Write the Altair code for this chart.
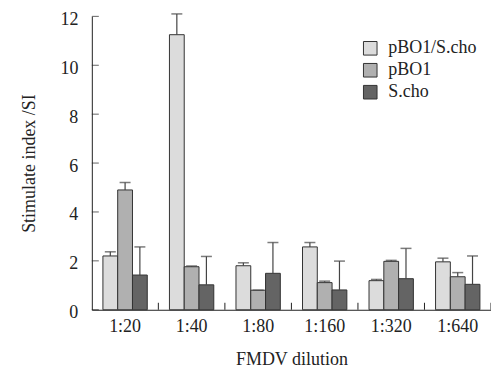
import altair as alt
import pandas as pd

dilutions = ["1:20", "1:40", "1:80", "1:160", "1:320", "1:640"]
groups = ["pBO1/S.cho", "pBO1", "S.cho"]
vals_combo = [2.2, 11.25, 1.8, 2.57, 1.19, 1.96]
err_combo = [2.37, 12.1, 1.92, 2.75, 1.24, 2.11]
vals_pbo1 = [4.9, 1.76, 0.8, 1.11, 1.98, 1.35]
err_pbo1 = [5.2, 1.79, 0.8, 1.17, 2.02, 1.52]
vals_scho = [1.42, 1.02, 1.49, 0.81, 1.27, 1.04]
err_scho = [2.57, 2.18, 2.75, 1.99, 2.51, 2.2]
y_ticks = [0, 2, 4, 6, 8, 10, 12]
colors = ["#dcdcdc", "#b0b0b0", "#646464"]

rows = []
for g, vs, es in [(groups[0], vals_combo, err_combo), (groups[1], vals_pbo1, err_pbo1), (groups[2], vals_scho, err_scho)]:
    for d, v, e in zip(dilutions, vs, es):
        rows.append({"dilution": d, "group": g, "value": v, "err": e})
df = pd.DataFrame(rows)
df_d = pd.DataFrame({"dilution": dilutions})
df_y = pd.DataFrame({"t": y_ticks})

W, H = 400, 294
FONT = "Liberation Serif"
FS = 18

xenc = alt.X("dilution:N", sort=dilutions,
             scale=alt.Scale(paddingInner=0, paddingOuter=0),
             axis=alt.Axis(title="FMDV dilution", labelAngle=0, ticks=False,
                           labelPadding=8, titlePadding=15, domainColor="#222"))
xoff = alt.XOffset("group:N", sort=groups, scale=alt.Scale(paddingInner=0, paddingOuter=0.75))
yenc = alt.Y("value:Q", scale=alt.Scale(domain=[0, 12], nice=False),
             axis=alt.Axis(title="Stimulate index /SI", values=y_ticks, ticks=False,
                           labelPadding=14, labelOffset=3, titlePadding=21, grid=False,
                           domainColor="#222"))

bars = alt.Chart(df).mark_bar(stroke="#333", strokeWidth=1).encode(
    x=xenc, xOffset=xoff, y=yenc,
    color=alt.Color("group:N", sort=groups,
                    scale=alt.Scale(domain=groups, range=colors),
                    legend=alt.Legend(title=None, orient="none", legendX=270, legendY=23,
                                      symbolType="square", symbolSize=185,
                                      symbolStrokeColor="#333", symbolStrokeWidth=1,
                                      labelFontSize=FS, labelFont=FONT, rowPadding=4,
                                      labelOffset=9, labelColor="#222")),
)

err_line = alt.Chart(df).mark_rule(color="#444", strokeWidth=1.2).encode(
    x=alt.X("dilution:N", sort=dilutions), xOffset=alt.XOffset("group:N", sort=groups),
    y="value:Q", y2="err:Q")
err_cap = alt.Chart(df).mark_tick(color="#444", thickness=1.5, size=11, orient="horizontal").encode(
    x=alt.X("dilution:N", sort=dilutions), xOffset=alt.XOffset("group:N", sort=groups),
    y="err:Q")

xticks = alt.Chart(df_d).mark_rule(color="#222").encode(
    x=alt.X("dilution:N", sort=dilutions, bandPosition=1),
    y=alt.value(H - 7), y2=alt.value(H))
yticks = alt.Chart(df_y).mark_tick(color="#222", orient="horizontal", size=7, thickness=1).encode(
    y=alt.Y("t:Q"), x=alt.value(3.5))

chart = alt.layer(bars, err_line, err_cap, xticks, yticks).properties(
    width=W, height=H,
    autosize=alt.AutoSizeParams(type="none"),
    padding={"left": 84, "top": 8, "right": 0, "bottom": 62},
).configure(font=FONT).configure_axis(
    labelFont=FONT, titleFont=FONT, labelFontSize=FS, titleFontSize=FS,
    titleFontWeight="normal", labelColor="#222", titleColor="#222",
).configure_view(stroke=None)

chart.save("out.html", embed_options={"renderer": "svg", "actions": False})
